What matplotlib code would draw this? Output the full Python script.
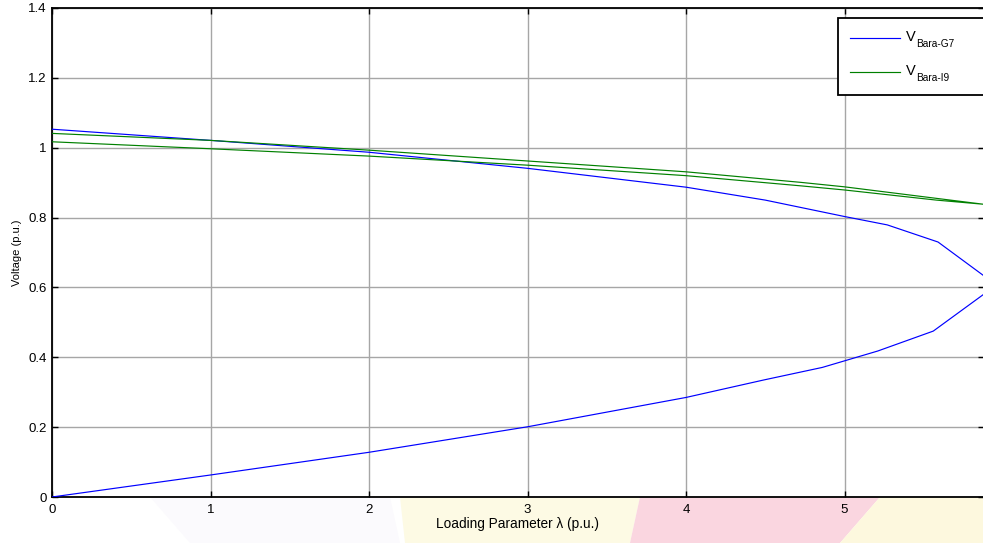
import matplotlib
matplotlib.use("Agg")
import matplotlib.pyplot as plt
from matplotlib.patches import Rectangle, Polygon
from matplotlib.lines import Line2D

plt.rcParams['font.family'] = ['Liberation Sans', 'DejaVu Sans']

# ---- data ----
# Bus G7: upper branch (lambda increasing) and lower branch (lambda decreasing)
g7_up_lam = [0.0, 1.0, 2.0, 3.0, 4.0, 4.5, 5.0, 5.27, 5.59, 5.88]
g7_up_v   = [1.053, 1.021, 0.987, 0.941, 0.887, 0.850, 0.803, 0.779, 0.730, 0.633]
g7_lo_lam = [5.88, 5.56, 5.21, 4.86, 4.49, 4.0, 3.0, 2.0, 1.0, 0.0]
g7_lo_v   = [0.581, 0.475, 0.418, 0.371, 0.335, 0.285, 0.201, 0.128, 0.063, 0.0]

# Bus I9
i9_up_lam = [0.0, 1.0, 2.0, 3.0, 4.0, 4.72, 5.0, 5.58, 5.88]
i9_up_v   = [1.041, 1.021, 0.993, 0.962, 0.931, 0.901, 0.888, 0.855, 0.838]
i9_lo_lam = [5.88, 5.58, 5.0, 4.72, 4.0, 3.0, 2.0, 1.0, 0.0]
i9_lo_v   = [0.838, 0.850, 0.879, 0.891, 0.920, 0.950, 0.976, 0.997, 1.017]

x_ticks = [0, 1, 2, 3, 4, 5]
y_ticks = [0, 0.2, 0.4, 0.6, 0.8, 1.0, 1.2, 1.4]
y_tick_labels = ['0', '0.2', '0.4', '0.6', '0.8', '1', '1.2', '1.4']
legend_main = ['V', 'V']
legend_sub = ['Bara-G7', 'Bara-I9']

W, H = 983, 543
fig = plt.figure(figsize=(W / 100, H / 100), dpi=100)
fig.patch.set_facecolor('white')

def px(x, y):
    return (x / W, 1 - y / H)

# faint decorative background (watermark-like) below the axes
bg = [
    ([(150, 497), (390, 497), (400, 543), (190, 543)], '#fbfafd'),
    ([(400, 497), (640, 497), (630, 543), (405, 543)], '#fdfae4'),
    ([(640, 497), (880, 497), (840, 543), (630, 543)], '#fad6e0'),
    ([(880, 497), (983, 497), (983, 543), (840, 543)], '#fdf8de'),
]
for pts, col in bg:
    fig.add_artist(Polygon([px(*p) for p in pts], closed=True,
                           transform=fig.transFigure, facecolor=col,
                           edgecolor='none', zorder=0))

left, right, top, bottom = 52, 984, 8, 497
ax = fig.add_axes([left / W, 1 - bottom / H, (right - left) / W, (bottom - top) / H])
ax.set_facecolor('white')

ax.plot(g7_up_lam + g7_lo_lam, g7_up_v + g7_lo_v, color='#0000ff', lw=0.85, zorder=3)
ax.plot(i9_up_lam + i9_lo_lam, i9_up_v + i9_lo_v, color='#008000', lw=0.85, zorder=3)

ax.set_xlim(0, 5.88)
ax.set_ylim(0, 1.4)
ax.set_xticks(x_ticks)
ax.set_xticklabels([str(t) for t in x_ticks])
ax.set_yticks(y_ticks)
ax.set_yticklabels(y_tick_labels)
ax.tick_params(direction='in', length=4, width=1, top=True, right=True,
               labelsize=9.5, pad=4, colors='black')
ax.tick_params(axis='x', pad=5)
ax.grid(True, color='#a6a6a6', lw=1.0, ls='-', zorder=1)
ax.set_axisbelow(True)
for s in ax.spines.values():
    s.set_linewidth(1.3)
    s.set_color('black')

ax.set_xlabel('Loading Parameter λ (p.u.)', fontsize=9.8, labelpad=1)
ax.set_ylabel('Voltage (p.u.)', fontsize=8, labelpad=4)

# legend drawn manually (box extends past the right edge)
fig.add_artist(Rectangle(px(838, 95), (990 - 838) / W, (95 - 18) / H,
                         transform=fig.transFigure, facecolor='white',
                         edgecolor='black', lw=1.3, zorder=5))
line_cols = ['#0000ff', '#008000']
line_y = [38, 72]
for i in range(2):
    x0, y0 = px(850, line_y[i])
    x1, _ = px(900, line_y[i])
    fig.add_artist(Line2D([x0, x1], [y0, y0], transform=fig.transFigure,
                          color=line_cols[i], lw=0.85, zorder=6))
    tx, ty = px(906, line_y[i] - 1)
    fig.text(tx, ty, legend_main[i], fontsize=10.5, va='center', ha='left', zorder=6)
    sx, sy = px(916, line_y[i] + 6)
    fig.text(sx, sy, legend_sub[i], fontsize=7.3, va='center', ha='left', zorder=6)

fig.savefig('out.png', dpi=100)
